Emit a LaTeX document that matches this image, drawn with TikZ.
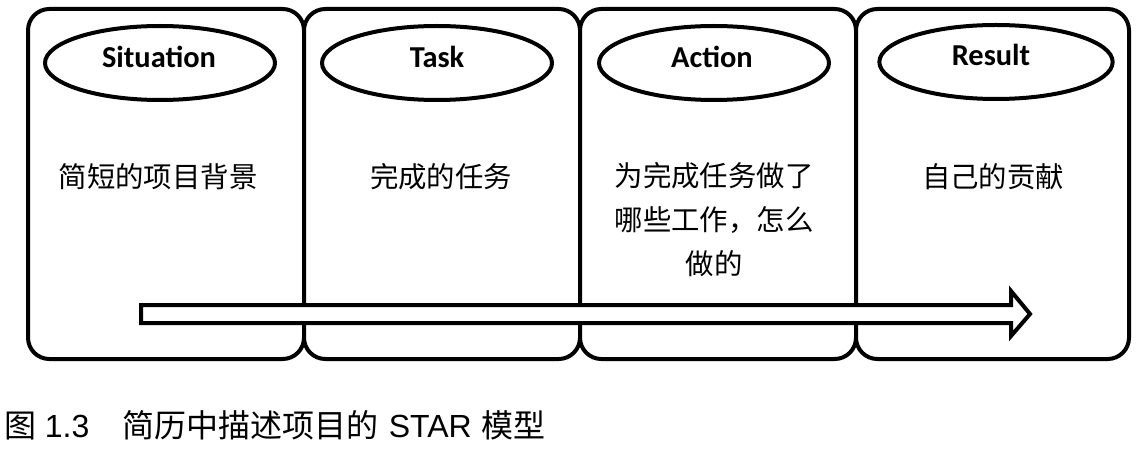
\documentclass[tikz,border=0pt]{standalone}
\usepackage{fontspec}
\usetikzlibrary{shapes.geometric}
\newfontfamily\cjk{Noto Sans CJK SC}
\newfontfamily\labfont{Carlito}
\newfontfamily\arialfont{Liberation Sans}
\tikzset{
  stagebox/.style={draw=black, line width=3pt, rounded corners=16pt, fill=white, inner sep=0pt, minimum height=262.5pt},
  stagetitle/.style={draw=black, line width=3pt, ellipse, inner sep=0pt, minimum width=172.5pt, minimum height=55.5pt},
  titletext/.style={anchor=base, inner sep=0pt, font=\labfont\bfseries\fontsize{22.8pt}{26pt}\selectfont},
  bodytext/.style={align=center, inner sep=0pt, font=\cjk\fontsize{21.3pt}{33pt}\selectfont},
  bigarrow/.style={draw=black, line width=3pt, fill=white, line join=miter},
}
\begin{document}
\begin{tikzpicture}[x=0.75pt,y=-0.75pt]
\useasboundingbox (0,0) rectangle (1141,452);
\fill[white] (0,0) rectangle (1141,452);
% boxes
\node[stagebox, minimum width=207pt] (b1) at (166,184) {};
\node[stagebox, minimum width=207pt] (b2) at (442,184) {};
\node[stagebox, minimum width=207pt] (b3) at (718,184) {};
\node[stagebox, minimum width=204.75pt] (b4) at (992.5,184) {};
% title ellipses
\node[stagetitle] (e1) at (160,63) {};
\node[stagetitle] (e2) at (437,63) {};
\node[stagetitle] (e3) at (714,63) {};
\node[stagetitle, minimum width=175pt] (e4) at (996,62) {};
\node[titletext] (t1) at (159,68) {Situation};
\node[titletext] (t2) at (437,68) {Task};
\node[titletext] (t3) at (712,68) {Action};
\node[titletext] (t4) at (991,66) {Result};
% body texts
\node[bodytext] (d1) at (158,177) {简短的项目背景};
\node[bodytext] (d2) at (441,177) {完成的任务};
\node[bodytext] (d3) at (714,220) {为完成任务做了\\哪些工作，怎么\\做的};
\node[bodytext] (d4) at (993,177) {自己的贡献};
% big arrow
\draw[bigarrow] (141,305) -- (1011,305) -- (1011,291) -- (1030,314) -- (1011,336) -- (1011,323) -- (141,323) -- cycle;
% caption
\node[anchor=base west, inner sep=0pt, font=\fontsize{24pt}{28pt}\selectfont] (cap) at (4,437)
  {{\cjk 图}\hspace{6.5pt}{\arialfont 1.3}\hspace{25pt}{\cjk 简历中描述项目的}\hspace{7.5pt}{\arialfont STAR}\hspace{7.5pt}{\cjk 模型}};
\end{tikzpicture}
\end{document}
